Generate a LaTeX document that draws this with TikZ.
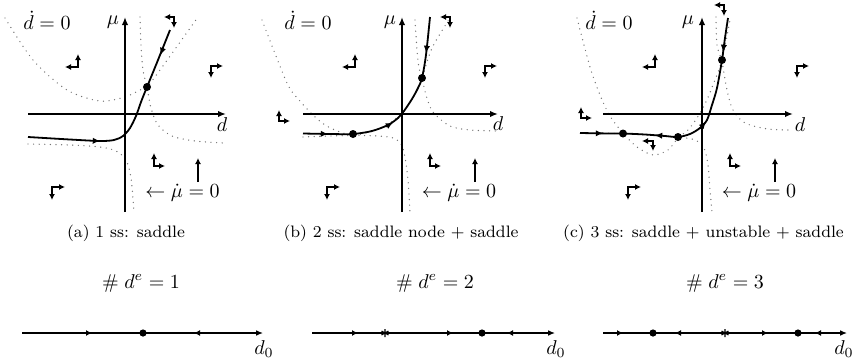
\documentclass[tikz,border=0pt]{standalone}
\usetikzlibrary{arrows.meta}
\newcommand\flowind[4]{\draw[ia] (#1+#3,#2) -- (#1,#2) -- (#1,#2+#4);}
\newcommand\starmark[2]{\draw[line width=0.55pt] (#1,#2) ++(0,-4) -- ++(0,8) (#1,#2) ++(-3.5,-2) -- ++(7,4) (#1,#2) ++(-3.5,2) -- ++(7,-4);}
\begin{document}
\begin{tikzpicture}[x=0.5pt,y=-0.5pt,
  ax/.style={line width=0.8pt,-{Latex[length=4pt,width=3.2pt]}},
  traj/.style={line width=0.9pt},
  ncl/.style={line width=0.7pt, black!55, dash pattern=on 0pt off 2.8pt, line cap=round},
  ia/.style={line width=0.8pt,{Latex[length=3pt,width=3pt]}-{Latex[length=3pt,width=3pt]}},
  upar/.style={line width=0.8pt,-{Latex[length=3pt,width=3pt]}},
  tipm/.style={line width=0.9pt,-{Latex[length=3.6pt,width=3.2pt]}},
  tipb/.style={line width=0.6pt,-{Latex[length=3pt,width=3pt]}},
  bl/.style={line width=0.6pt,-{Latex[length=3.4pt,width=2.8pt]}},
  lab/.style={inner sep=0pt, font=\fontsize{10}{12}\selectfont},
  captxt/.style={inner sep=0pt, font=\fontsize{8.3}{10}\selectfont},
  fp/.style={circle, fill, inner sep=0pt, minimum size=4pt},
  fpb/.style={circle, fill, inner sep=0pt, minimum size=3.6pt},
]
\useasboundingbox (0,0) rectangle (859,360);

% ================= panel (a) =================
\draw[ncl] plot[smooth] coordinates {(5,18) (33,60) (67,90) (100,101) (125,97) (140,90) (147,87) (160,70) (178,45) (198,17)};
\draw[ncl] plot[smooth] coordinates {(140,17) (141,45) (143,70) (147,87) (151,108) (158,125) (172,136) (195,141) (224,143)};
\draw[ncl] plot[smooth] coordinates {(28,144) (70,145) (100,147) (116,151) (126,160) (131,178) (134,212)};
\draw[ax] (125,212) -- (125,17);
\draw[ax] (28,114) -- (226,114);
\draw[traj] plot[smooth] coordinates {(28,137) (70,139.5) (100,141) (114,140) (123,136) (130,128) (136,116) (141,102) (147,87) (158,60) (170,30)};
\draw[tipm] (93,140.8) -- (100,141);
\draw[tipm] (163,48) -- (160.5,55);
\node[fp] (pa1) at (147,87) {};
\flowind{78}{67}{-13}{-13}
\flowind{174}{17}{-10}{11}
\flowind{211}{66}{12}{12}
\flowind{154}{166}{11}{-13}
\flowind{52}{187}{13}{13}
\draw[upar] (198,182) -- (198,158);
\node[lab] (da) at (47,20) {$\dot d = 0$};
\node[lab] (mua) at (113,22) {$\mu$};
\node[lab] (dla) at (222,125) {$d$};
\node[lab] (mda) at (182.5,193) {$\leftarrow \dot\mu = 0$};
\node[captxt] (capa) at (126,233) {(a) 1 ss: saddle};
\node[lab] (numa) at (141,283) {$\#\; d^e = 1$};
\draw[bl] (22,333) -- (263,333);
\draw[tipb] (86,333) -- (92,333);
\draw[tipb] (200,333) -- (194,333);
\node[fpb] (qa1) at (143,333) {};
\node[lab] (d0a) at (264,349) {$d_0$};

% ================= panel (b) =================
\draw[ncl] plot[smooth] coordinates {(262,20) (287,83) (300,101) (312,114) (325,125) (340,132) (353,135) (370,132) (387,125) (402,113) (413,98) (422,78) (432,48) (450,18)};
\draw[ncl] plot[smooth] coordinates {(415,20) (417,50) (419,68) (422,78) (426,95) (433,112) (450,126) (470,130) (498,131)};
\draw[ncl] plot[smooth] coordinates {(303,137) (330,136) (353,135.5) (378,136) (393,138) (401,144) (405,157) (408,180) (410,212)};
\draw[ax] (402,212) -- (402,17);
\draw[ax] (303,114) -- (498,114);
\draw[traj] plot[smooth] coordinates {(303,133.5) (330,134) (353,134) (372,131) (388,125) (398,118) (404,111) (412,99) (418,88) (422,78) (426,55) (430,17)};
\draw[tipm] (321,133.8) -- (328,134);
\draw[tipm] (386,126.5) -- (393,122.5);
\draw[tipm] (427,45) -- (426,53);
\node[fp] (pb1) at (353,134) {};
\node[fp] (pb2) at (422,78) {};
\flowind{355}{67}{-13}{-13}
\flowind{450}{17}{-10}{11}
\flowind{485}{66}{12}{12}
\flowind{430}{166}{11}{-13}
\flowind{327}{187}{13}{13}
\flowind{279}{121}{11}{-11}
\draw[upar] (475,182) -- (475,158);
\node[lab] (db) at (308,20) {$\dot d = 0$};
\node[lab] (mub) at (390,22) {$\mu$};
\node[lab] (dlb) at (498,124) {$d$};
\node[lab] (mdb) at (459,193) {$\leftarrow \dot\mu = 0$};
\node[captxt] (capb) at (401,233) {(b) 2 ss: saddle node + saddle};
\node[lab] (numb) at (435,283) {$\#\; d^e = 2$};
\draw[bl] (312,333) -- (555,333);
\draw[tipb] (352,333) -- (358,333);
\draw[tipb] (447,333) -- (453,333);
\draw[tipb] (513,333) -- (507,333);
\starmark{385}{333}
\node[fpb] (qb1) at (482,333) {};
\node[lab] (d0b) at (556,349) {$d_0$};

% ================= panel (c) =================
\draw[ncl] plot[smooth] coordinates {(577,18) (590,67) (600,95) (610,116) (623,133) (637,147) (653,155) (668,150) (678,138) (688,130) (697,118) (705,104) (713,85) (722,60) (730,20)};
\draw[ncl] plot[smooth] coordinates {(716,17) (717,45) (722,62) (727,90) (733,110) (745,123) (768,129) (793,130)};
\draw[ncl] plot[smooth] coordinates {(603,133) (640,134.5) (678,137) (695,140) (704,148) (708,165) (710,190) (712,212)};
\draw[ax] (702,212) -- (702,17);
\draw[ax] (603,114) -- (793,114);
\draw[traj] plot[smooth] coordinates {(580,133) (610,133.5) (623,133.5) (645,134.5) (665,136) (678,137) (690,134) (700,128) (707,120) (712,105) (717,88) (722,60) (725,38) (728,18)};
\draw[tipm] (596,133.3) -- (603,133.4);
\draw[tipm] (662,135.7) -- (655,135.2);
\draw[tipm] (700,128.5) -- (706,121.5);
\draw[tipm] (724,44) -- (723,52);
\node[fp] (pc1) at (623,133.5) {};
\node[fp] (pc2) at (678,137) {};
\node[fp] (pc3) at (722,60) {};
\flowind{724}{5}{-10}{11}
\flowind{655}{67}{-13}{-13}
\flowind{797}{66}{12}{12}
\flowind{730}{166}{11}{-13}
\flowind{628}{187}{13}{13}
\flowind{581}{118}{11}{-11}
\flowind{653}{141}{-11}{10}
\draw[upar] (775,182) -- (775,158);
\node[lab] (dc) at (609,20) {$\dot d = 0$};
\node[lab] (muc) at (688,22) {$\mu$};
\node[lab] (dlc) at (800,125) {$d$};
\node[lab] (mdc) at (759,193) {$\leftarrow \dot\mu = 0$};
\node[captxt] (capc) at (703.5,233) {(c) 3 ss: saddle + unstable + saddle};
\node[lab] (numc) at (725,283) {$\#\; d^e = 3$};
\draw[bl] (603,333) -- (847,333);
\draw[tipb] (617,333) -- (623,333);
\draw[tipb] (681,333) -- (675,333);
\draw[tipb] (762,333) -- (768,333);
\draw[tipb] (821,333) -- (815,333);
\starmark{725}{333}
\node[fpb] (qc1) at (653,333) {};
\node[fpb] (qc2) at (798,333) {};
\node[lab] (d0c) at (844,349) {$d_0$};
\end{tikzpicture}
\end{document}
